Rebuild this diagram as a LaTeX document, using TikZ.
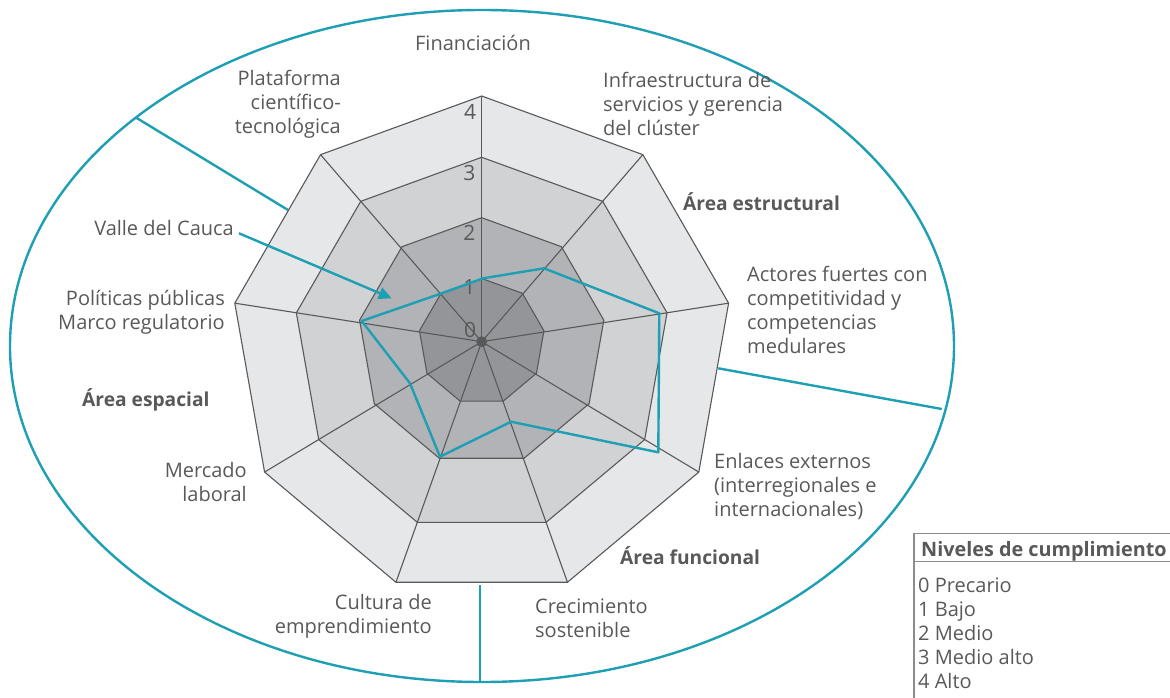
\documentclass[tikz,border=0pt]{standalone}
\usepackage{fontspec}
\setmainfont{Open Sans}
\usetikzlibrary{arrows.meta}
\definecolor{teal1}{HTML}{1E9FB3}
\definecolor{txt}{HTML}{595959}
\definecolor{gridc}{HTML}{58595B}
\definecolor{g4}{HTML}{E6E7E8}
\definecolor{g3}{HTML}{D1D2D4}
\definecolor{g2}{HTML}{B1B3B6}
\definecolor{g1}{HTML}{939598}
\begin{document}
\begin{tikzpicture}[x=1pt,y=-1pt,
  lbl/.style={font=\fontsize{20}{24}\selectfont, text=txt, inner sep=0pt},
  blbl/.style={lbl, font=\fontsize{19.2}{24}\selectfont\bfseries},
  num/.style={font=\fontsize{21}{24}\selectfont, text=txt, inner sep=0pt},
  tealline/.style={draw=teal1, line width=2.4pt},
  gridline/.style={draw=gridc, line width=1.1pt}]
\useasboundingbox (0,0) rectangle (1170,698);
\clip (0,0) rectangle (1170,698);
\fill[white] (0,0) rectangle (1170,698);

% outer ellipse and area separators
\draw[tealline] (482,346) ellipse [x radius=472, y radius=336];
\draw[tealline] (288,210) -- (135.5,117.3);
\draw[tealline] (718.2,368.3) -- (941.7,409);
\draw[tealline] (480,585) -- (480,682);

% rings
\foreach \r/\cy/\c in {250.7/346.7/g4, 188.2/345.5/g3, 124/341.7/g2, 63.2/341.7/g1}{
  \filldraw[fill=\c, gridline, line join=miter]
    plot[samples at={90,50,...,-230}] ({481.7+\r*cos(\x)},{\cy-\r*sin(\x)}) -- cycle;
}
% spokes
\foreach \a in {90,50,...,-230}{
  \draw[gridline] (481.7,341.7) -- ({481.7+250.7*cos(\a)},{346.7-250.7*sin(\a)});
}
\fill[gridc] (481.7,341.7) circle (5.5);

% scale numbers
\node[num] (n4) at (470,111.7) {4};
\node[num] (n3) at (469.3,172.7) {3};
\node[num] (n2) at (469.3,232.7) {2};
\node[num] (n1) at (469.3,287.3) {1};
\node[num] (n0) at (470,330) {0};

% data series
\draw[tealline, line join=round] (483.3,278.3) -- (544,268.3) -- (659.3,313.3) -- (658.3,452.3) -- (511,421.7) -- (440,456.7) -- (410,383.3) -- (361.7,321) -- (441.7,293.3) -- cycle;

% axis labels
\node[lbl, anchor=center] (fin) at (473,43) {Financiación};
\node[lbl, anchor=east, align=right] (plat) at (341,104) {Plataforma\\científico-\\tecnológica};
\node[lbl, anchor=west, align=left] (infra) at (603,104) {Infraestructura de\\servicios y gerencia\\del clúster};
\node[blbl, anchor=west] (aest) at (683,202) {Área estructural};
\node[lbl, anchor=west, align=left] (act) at (747,309.5) {Actores fuertes con\\competitividad y\\competencias\\medulares};
\node[lbl, anchor=west, align=left] (enl) at (714,486) {Enlaces externos\\(interregionales e\\internacionales)};
\node[blbl, anchor=west] (afun) at (620,556) {Área funcional};
\node[lbl, anchor=west, align=left] (crec) at (535,618) {Crecimiento\\sostenible};
\node[lbl, anchor=east, align=right] (cult) at (432,616) {Cultura de\\emprendimiento};
\node[lbl, anchor=east, align=right] (merc) at (247,482) {Mercado\\laboral};
\node[blbl, anchor=west] (aesp) at (82,400) {Área espacial};
\node[lbl, anchor=east, align=right] (pol) at (225,312) {Políticas públicas\\Marco regulatorio};

% callout
\node[lbl, anchor=east] (valle) at (234,228) {Valle del Cauca};
\coordinate (vstart) at (239,233.3);
\coordinate (vtip) at (391.7,298.3);
\draw[tealline, -{Triangle[length=13pt,width=12pt]}] (vstart) -- (vtip);

% legend
\draw[draw=gray!90, line width=1.4pt] (914,533.3) rectangle (1185,710);
\draw[draw=gray!90, line width=1.4pt] (914,561.7) -- (1185,561.7);
\node[blbl, anchor=west, font=\fontsize{19.8}{24}\selectfont\bfseries] (lgh) at (921,551) {Niveles de cumplimiento};
\node[lbl, anchor=north west, align=left] (lgi) at (918,578) {0 Precario\\1 Bajo\\2 Medio\\3 Medio alto\\4 Alto};
\end{tikzpicture}
\end{document}
